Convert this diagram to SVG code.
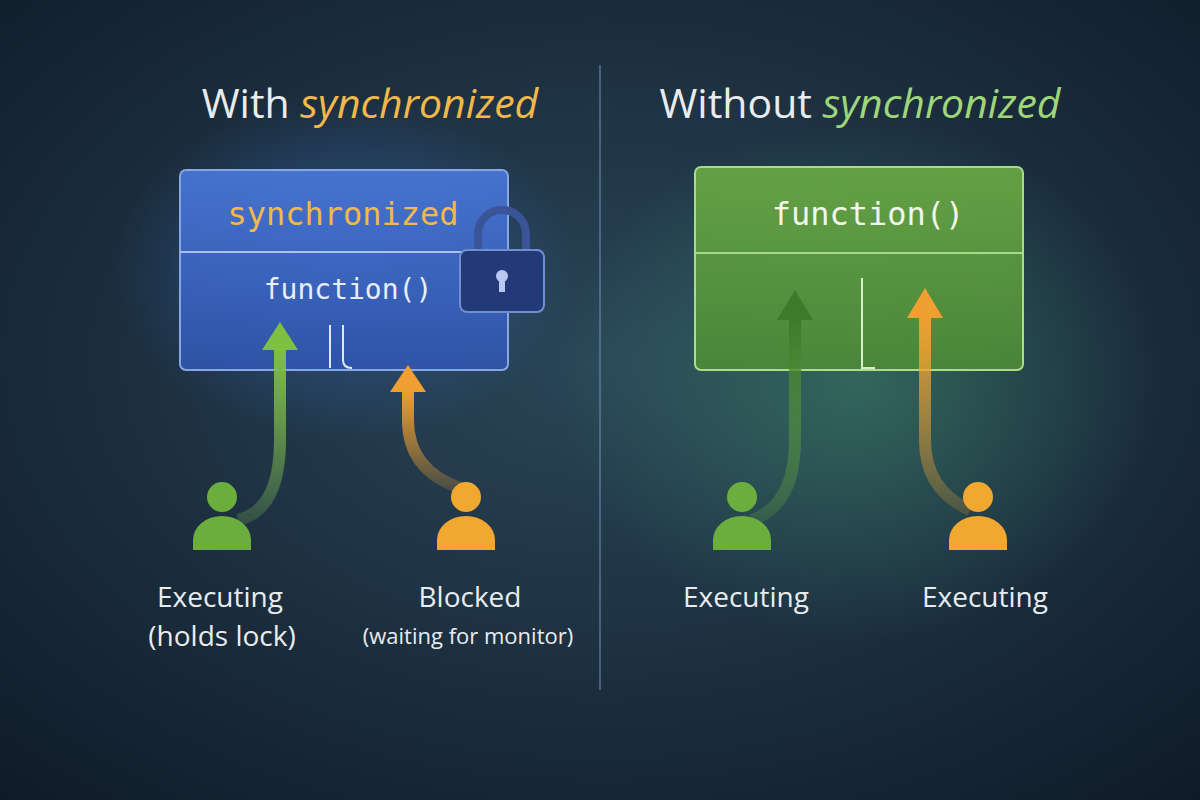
<svg xmlns="http://www.w3.org/2000/svg" width="1200" height="800" viewBox="0 0 1200 800">
<defs>
<radialGradient id="bg" cx="50%" cy="45%" r="75%"><stop offset="0" stop-color="#2a4658"/><stop offset="1" stop-color="#0f1a28"/></radialGradient>
<radialGradient id="gl" cx="50%" cy="50%" r="50%"><stop offset="0" stop-color="#3f8a6a" stop-opacity="0.55"/><stop offset="1" stop-color="#3f8a6a" stop-opacity="0"/></radialGradient>
<radialGradient id="bl" cx="50%" cy="50%" r="50%"><stop offset="0" stop-color="#3f6fd0" stop-opacity="0.5"/><stop offset="1" stop-color="#3f6fd0" stop-opacity="0"/></radialGradient>
<linearGradient id="bb" x1="0" y1="0" x2="0" y2="1"><stop offset="0" stop-color="#4a78d8"/><stop offset="1" stop-color="#2f55ad"/></linearGradient>
<linearGradient id="gb" x1="0" y1="0" x2="0" y2="1"><stop offset="0" stop-color="#6aaa45"/><stop offset="1" stop-color="#4c8a38"/></linearGradient>
<linearGradient id="ag" x1="0" y1="1" x2="0" y2="0"><stop offset="0" stop-color="#8fd05a" stop-opacity="0.2"/><stop offset="1" stop-color="#7fc040"/></linearGradient>
<linearGradient id="ao" x1="0" y1="1" x2="0" y2="0"><stop offset="0" stop-color="#f0a030" stop-opacity="0.2"/><stop offset="1" stop-color="#f0a030"/></linearGradient>
<linearGradient id="ad" x1="0" y1="1" x2="0" y2="0"><stop offset="0" stop-color="#6fb040" stop-opacity="0.2"/><stop offset="1" stop-color="#3d7a2c"/></linearGradient>
<style>
.t{font-family:"Open Sans","DejaVu Sans",sans-serif;fill:#e8ecef}
.m{font-family:"DejaVu Sans Mono","Liberation Mono",monospace}
</style>
</defs>
<rect width="1200" height="800" fill="url(#bg)"/>
<ellipse cx="860" cy="380" rx="300" ry="260" fill="url(#gl)"/>
<ellipse cx="345" cy="270" rx="230" ry="170" fill="url(#bl)"/>
<line x1="600" y1="65" x2="600" y2="690" stroke="#6f8fb0" stroke-width="1.5" opacity="0.7"/>
<text class="t" x="370" y="118" font-size="41" text-anchor="middle">With <tspan font-style="italic" fill="#f2b84a">synchronized</tspan></text>
<text class="t" x="860" y="118" font-size="41" text-anchor="middle">Without <tspan font-style="italic" fill="#9fd67a">synchronized</tspan></text>
<g id="left-box">
<rect x="180" y="170" width="328" height="200" rx="6" fill="url(#bb)" stroke="#8fb0f0" stroke-width="2" opacity="0.92"/>
<line x1="180" y1="252" x2="508" y2="252" stroke="#a8c2f0" stroke-width="2"/>
<text class="m" x="343" y="225" font-size="32" fill="#f2b84a" text-anchor="middle">synchronized</text>
<text class="m" x="348" y="299" font-size="28" fill="#e8eef8" text-anchor="middle">function()</text>
<path d="M330 325 V368 M343 325 V360 Q343 368 352 368" stroke="#dfe8f8" stroke-width="2" fill="none"/>
</g>
<g id="lock">
<path d="M478 252 V234 a24 24 0 0 1 48 0 V252" fill="none" stroke="#3a5498" stroke-width="8"/>
<rect x="460" y="250" width="84" height="62" rx="7" fill="#243a78" stroke="#6f8fd0" stroke-width="2"/>
<circle cx="502" cy="276" r="6" fill="#b8c8f0"/><rect x="499" y="278" width="6" height="14" fill="#b8c8f0"/>
</g>
<g id="right-box">
<rect x="695" y="167" width="328" height="203" rx="6" fill="url(#gb)" stroke="#b8e890" stroke-width="2" opacity="0.92"/>
<line x1="695" y1="253" x2="1023" y2="253" stroke="#a8d88a" stroke-width="2"/>
<text class="m" x="868" y="225" font-size="32" fill="#f0f6ea" text-anchor="middle">function()</text>
<path d="M862 278 V368 H875" stroke="#d8f0c8" stroke-width="2" fill="none"/>
</g>
<g id="connectors">
<path d="M238 520 Q280 510 280 440 V348" stroke="url(#ag)" stroke-width="12" fill="none"/>
<polygon points="280,322 262,350 298,350" fill="#7fc040"/>
<path d="M460 488 Q408 470 408 420 V390" stroke="url(#ao)" stroke-width="12" fill="none"/>
<polygon points="408,365 390,392 426,392" fill="#f0a030"/>
<path d="M752 520 Q795 505 795 440 V318" stroke="url(#ad)" stroke-width="12" fill="none"/>
<polygon points="795,290 777,320 813,320" fill="#3d7a2c"/>
<path d="M970 510 Q925 490 925 440 V316" stroke="url(#ao)" stroke-width="12" fill="none"/>
<polygon points="925,288 907,318 943,318" fill="#f0a030"/>
</g>
<g id="p1"><circle cx="222" cy="497" r="15" fill="#6cae3e"/><path d="M193 550 V540 a29 24 0 0 1 58 0 V550 Z" fill="#6cae3e"/></g>
<g id="p2"><circle cx="466" cy="497" r="15" fill="#f0a830"/><path d="M437 550 V540 a29 24 0 0 1 58 0 V550 Z" fill="#f0a830"/></g>
<g id="p3"><circle cx="742" cy="497" r="15" fill="#6cae3e"/><path d="M713 550 V540 a29 24 0 0 1 58 0 V550 Z" fill="#6cae3e"/></g>
<g id="p4"><circle cx="978" cy="497" r="15" fill="#f0a830"/><path d="M949 550 V540 a29 24 0 0 1 58 0 V550 Z" fill="#f0a830"/></g>
<text class="t" x="220" y="607" font-size="28" text-anchor="middle">Executing</text>
<text class="t" x="222" y="646" font-size="28" text-anchor="middle">(holds lock)</text>
<text class="t" x="470" y="607" font-size="28" text-anchor="middle">Blocked</text>
<text class="t" x="468" y="644" font-size="22" text-anchor="middle">(waiting for monitor)</text>
<text class="t" x="746" y="607" font-size="28" text-anchor="middle">Executing</text>
<text class="t" x="985" y="607" font-size="28" text-anchor="middle">Executing</text>
</svg>
